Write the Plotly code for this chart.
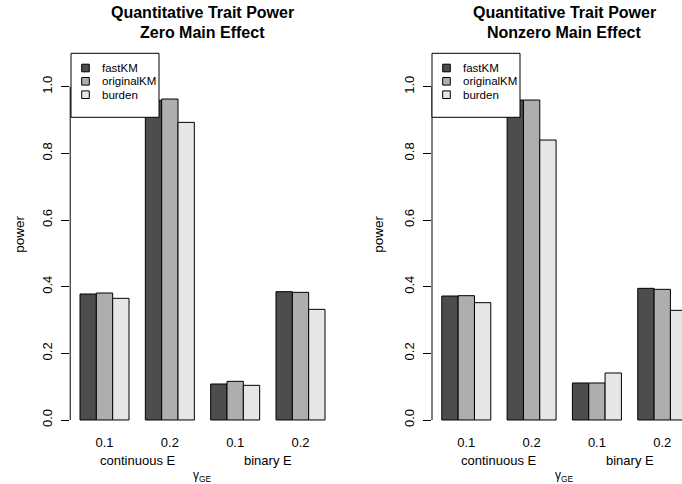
import plotly.graph_objects as go

# ---------------- data ----------------
gamma_labels = ["0.1", "0.2", "0.1", "0.2"]
env_labels = ["continuous E", "binary E"]
methods = ["fastKM", "originalKM", "burden"]
colors = ["#4D4D4D", "#AEAEAE", "#E6E6E6"]

zero_fastKM = [0.378, 0.959, 0.108, 0.385]
zero_originalKM = [0.381, 0.963, 0.116, 0.383]
zero_burden = [0.365, 0.893, 0.104, 0.332]

nonzero_fastKM = [0.372, 0.960, 0.111, 0.395]
nonzero_originalKM = [0.373, 0.960, 0.111, 0.392]
nonzero_burden = [0.352, 0.840, 0.141, 0.329]

panel_titles = [["Quantitative Trait Power", "Zero Main Effect"],
                ["Quantitative Trait Power", "Nonzero Main Effect"]]
y_ticks = [0.0, 0.2, 0.4, 0.6, 0.8, 1.0]

# ---------------- layout helpers ----------------
W, H = 682, 484
FONT = "Liberation Sans, Arial, sans-serif"


def X(px):
    return px / W


def Y(py):
    return 1 - py / H


fig = go.Figure()
positions = list(range(len(gamma_labels)))
panels = [
    ("x", "y", [zero_fastKM, zero_originalKM, zero_burden]),
    ("x2", "y2", [nonzero_fastKM, nonzero_originalKM, nonzero_burden]),
]
for xa, ya, series in panels:
    for name, vals, col in zip(methods, series, colors):
        fig.add_trace(go.Bar(
            x=positions, y=vals, name=name, xaxis=xa, yaxis=ya,
            marker=dict(color=col, line=dict(color="black", width=1)),
            showlegend=False, hoverinfo="skip",
        ))

yaxis_common = dict(
    range=[-0.04, 1.15], domain=[Y(433.33), Y(36.7)],
    tickvals=y_ticks, ticktext=[f"{v:.1f}" for v in y_ticks],
    ticks="outside", ticklen=8, tickcolor="black", tickwidth=1,
    showline=False, showgrid=False, zeroline=False, tickangle=-90,
    ticklabelstandoff=4,
    tickfont=dict(family=FONT, size=13, color="black"),
)
xaxis_common = dict(
    tickvals=positions, ticktext=gamma_labels, ticks="",
    showline=False, showgrid=False, zeroline=False,
    tickfont=dict(family=FONT, size=13, color="black"),
)

fig.update_layout(
    width=W, height=H, margin=dict(l=0, r=0, t=0, b=0),
    paper_bgcolor="white", plot_bgcolor="white",
    barmode="group", bargap=0.25, bargroupgap=0,
    showlegend=False,
    xaxis=dict(domain=[X(70.2), X(334.8)], range=[-0.525, 3.525], anchor="y", **xaxis_common),
    yaxis=dict(anchor="x", **yaxis_common),
    xaxis2=dict(domain=[X(432), 1.0], range=[-0.525, 3.3025], anchor="y2", **xaxis_common),
    yaxis2=dict(anchor="x2", **yaxis_common),
    font=dict(family=FONT, color="black"),
)

shapes = []
annotations = []
panel_info = [
    # (x-axis ref, left axis px, plot centre px, group centres px, y-label px)
    ("x", 71, 202.5, [105.0, 170.3, 235.7, 301.0], 18.7, panel_titles[0]),
    ("x2", 432, 564.0, [466.2, 531.5, 596.8, 662.2], 377.7, panel_titles[1]),
]
for xr, axis_px, centre, gcent, ylab_px, titles in panel_info:
    yr = "y" if xr == "x" else "y2"
    # axis line from 0 to 1
    shapes.append(dict(type="line", xref=f"{xr} domain", yref=yr,
                       x0=0, x1=0, y0=0, y1=1.0,
                       line=dict(color="black", width=1)))
    # titles
    annotations.append(dict(text=f"<b>{titles[0]}</b>", x=X(centre), y=Y(12.7),
                            xref="paper", yref="paper", showarrow=False,
                            xanchor="center", yanchor="middle",
                            font=dict(family=FONT, size=16, color="black")))
    annotations.append(dict(text=f"<b>{titles[1]}</b>", x=X(centre), y=Y(32.0),
                            xref="paper", yref="paper", showarrow=False,
                            xanchor="center", yanchor="middle",
                            font=dict(family=FONT, size=16, color="black")))
    # environment labels
    for k, lab in enumerate(env_labels):
        cx = (gcent[2 * k] + gcent[2 * k + 1]) / 2
        annotations.append(dict(text=lab, x=X(cx), y=Y(460), xref="paper", yref="paper",
                                showarrow=False, xanchor="center", yanchor="middle",
                                font=dict(family=FONT, size=13, color="black")))
    # gamma_GE label
    annotations.append(dict(text="γ<sub>GE</sub>", x=X(centre), y=Y(475.5),
                            xref="paper", yref="paper", showarrow=False,
                            xanchor="center", yanchor="middle",
                            font=dict(family=FONT, size=12, color="black")))
    # y label
    annotations.append(dict(text="power", x=X(ylab_px), y=Y(234), textangle=-90,
                            xref="paper", yref="paper", showarrow=False,
                            xanchor="center", yanchor="middle",
                            font=dict(family=FONT, size=13.5, color="black")))
    # legend box
    off = axis_px - 71
    shapes.append(dict(type="rect", xref="paper", yref="paper", layer="above",
                       x0=X(71 + off), x1=X(159 + off), y0=Y(117.3), y1=Y(53.3),
                       fillcolor="white", line=dict(color="black", width=1)))
    for name, col, cy in zip(methods, colors, [68.0, 81.3, 94.7]):
        shapes.append(dict(type="rect", xref="paper", yref="paper", layer="above",
                           x0=X(81.7 + off), x1=X(89.3 + off),
                           y0=Y(cy + 3.8), y1=Y(cy - 3.8),
                           fillcolor=col, line=dict(color="black", width=1)))
        annotations.append(dict(text=name, x=X(100 + off), y=Y(cy),
                                xref="paper", yref="paper", showarrow=False,
                                xanchor="left", yanchor="middle",
                                font=dict(family=FONT, size=11.5, color="black")))

fig.update_layout(shapes=shapes, annotations=annotations)
fig.write_html(
    "out.html",
    config={"displayModeBar": False},
    post_script="document.body.style.margin='0';document.body.style.overflow='hidden';",
)
